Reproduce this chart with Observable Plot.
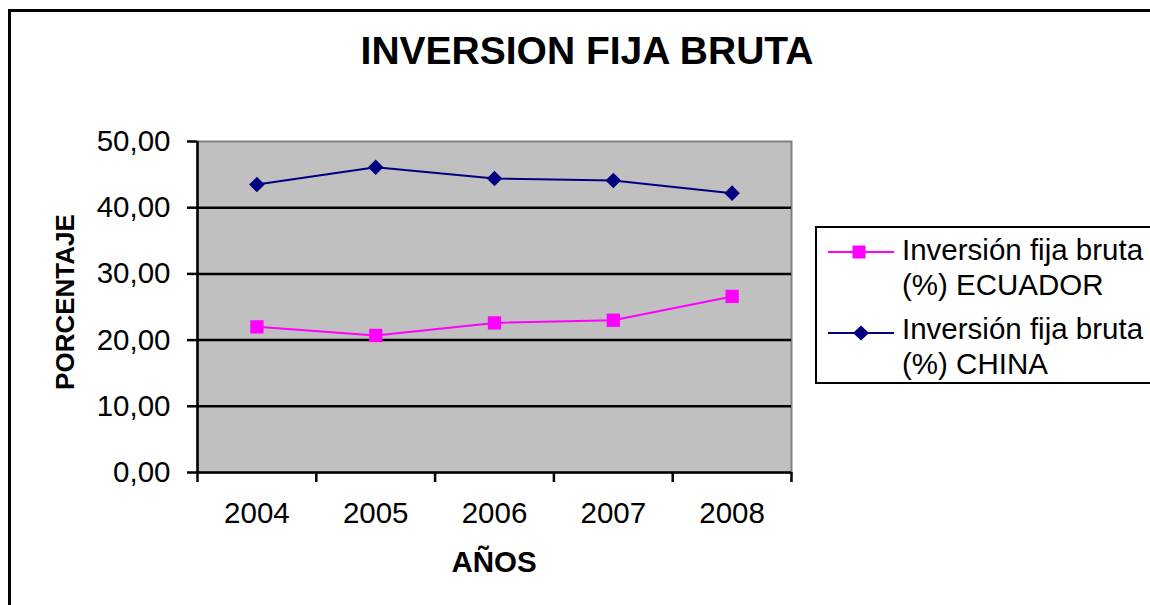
<!DOCTYPE html>
<html>
<head>
<meta charset="utf-8">
<script src="https://cdn.jsdelivr.net/npm/d3@7"></script>
<script src="https://cdn.jsdelivr.net/npm/@observablehq/plot@0.6"></script>
<style>
  html, body { margin: 0; padding: 0; background: #fff; }
  #wrap { position: relative; width: 1150px; height: 605px; overflow: hidden; background: #fff;
          font-family: "Liberation Sans", Arial, sans-serif; color: #000; }
  #frame { position: absolute; left: 8px; top: 9px; width: 1200px; height: 700px;
           border-left: 3px solid #000; border-top: 3px solid #000; box-sizing: border-box; }
  #chart { position: absolute; left: 0; top: 0; }
  .lbl { position: absolute; white-space: nowrap; font-weight: bold; line-height: normal; }
  #title { left: 0; width: 1174px; top: 28.7px; text-align: center; font-size: 39px; }
  #ylab { left: 64.5px; top: 302px; font-size: 26px; transform: translate(-50%, -50%) rotate(-90deg); }
  #xlab { left: 494px; top: 545px; font-size: 29.5px; transform: translateX(-50%); }
  #legend { position: absolute; left: 815px; top: 226px; width: 400px; height: 158px;
            border: 2px solid #000; box-sizing: border-box; font-size: 29.5px; }
  .entry { position: absolute; left: 85px; line-height: 34.7px; white-space: nowrap; }
  .sw { position: absolute; left: 11px; }
</style>
</head>
<body>
<div id="wrap">
  <div id="frame"></div>
  <div id="chart"></div>
  <div class="lbl" id="title">INVERSION FIJA BRUTA</div>
  <div class="lbl" id="ylab">PORCENTAJE</div>
  <div class="lbl" id="xlab">AÑOS</div>
  <div id="legend">
    <svg class="sw" style="top:15.7px" width="70" height="16">
      <line x1="0" x2="66" y1="8" y2="8" stroke="#ff00ff" stroke-width="2"/>
      <rect x="24.5" y="1.5" width="13" height="13" fill="#ff00ff"/>
    </svg>
    <div class="entry" style="top:5.2px">Inversión fija bruta<br>(%) ECUADOR</div>
    <svg class="sw" style="top:96.3px" width="70" height="18">
      <line x1="0" x2="66" y1="9" y2="9" stroke="#000080" stroke-width="2"/>
      <path d="M33,1.5 L41,9 L33,16.5 L25,9 Z" fill="#000080"/>
    </svg>
    <div class="entry" style="top:84.2px">Inversión fija bruta<br>(%) CHINA</div>
  </div>
</div>
<script>
const years = [2004, 2005, 2006, 2007, 2008];
const ecuador = [22.0, 20.7, 22.6, 23.0, 26.6];
const china = [43.5, 46.1, 44.4, 44.1, 42.2];
const yTicks = [0, 10, 20, 30, 40, 50];
const yGrid = [10, 20, 30, 40];

const ecData = years.map((y, i) => ({year: y, value: ecuador[i]}));
const chData = years.map((y, i) => ({year: y, value: china[i]}));
const bounds = [years[0] - 0.5, ...years.map(y => y + 0.5)];
const fmt = d => d.toFixed(2).replace(".", ",");

const plot = Plot.plot({
  width: 1150,
  height: 605,
  marginLeft: 197,
  marginRight: 359,
  marginTop: 141,
  marginBottom: 133,
  style: {fontFamily: "'Liberation Sans', Arial, sans-serif", fontSize: "29.5px", color: "#000", background: "transparent"},
  x: {type: "linear", domain: [bounds[0], bounds[bounds.length - 1]]},
  y: {domain: [0, 50]},
  marks: [
    Plot.frame({fill: "#c0c0c0", stroke: "#808080", strokeWidth: 2}),
    Plot.ruleY(yGrid, {stroke: "#000", strokeWidth: 2.5}),
    Plot.ruleY([0], {stroke: "#000", strokeWidth: 2.5}),
    Plot.ruleX([bounds[0]], {stroke: "#000", strokeWidth: 2.5}),
    Plot.axisY({ticks: yTicks, tickSize: 10, tickPadding: 17, tickFormat: fmt, label: null,
                stroke: "#000", strokeWidth: 2.5, fill: "#000", fontSize: 29.5}),
    Plot.axisX({ticks: bounds, tickSize: 10, tickFormat: () => "", label: null,
                stroke: "#000", strokeWidth: 2.5}),
    Plot.axisX({ticks: years, tickSize: 0, tickPadding: 30, tickFormat: d => String(d), label: null,
                fill: "#000", fontSize: 29.5}),
    Plot.line(ecData, {x: "year", y: "value", stroke: "#ff00ff", strokeWidth: 2}),
    Plot.dot(ecData, {x: "year", y: "value", symbol: "square", r: 7.5, fill: "#ff00ff", stroke: "none"}),
    Plot.line(chData, {x: "year", y: "value", stroke: "#000080", strokeWidth: 2}),
    Plot.dot(chData, {x: "year", y: "value", symbol: "diamond2", r: 7, fill: "#000080", stroke: "none"})
  ]
});
document.getElementById("chart").appendChild(plot);
</script>
</body>
</html>
